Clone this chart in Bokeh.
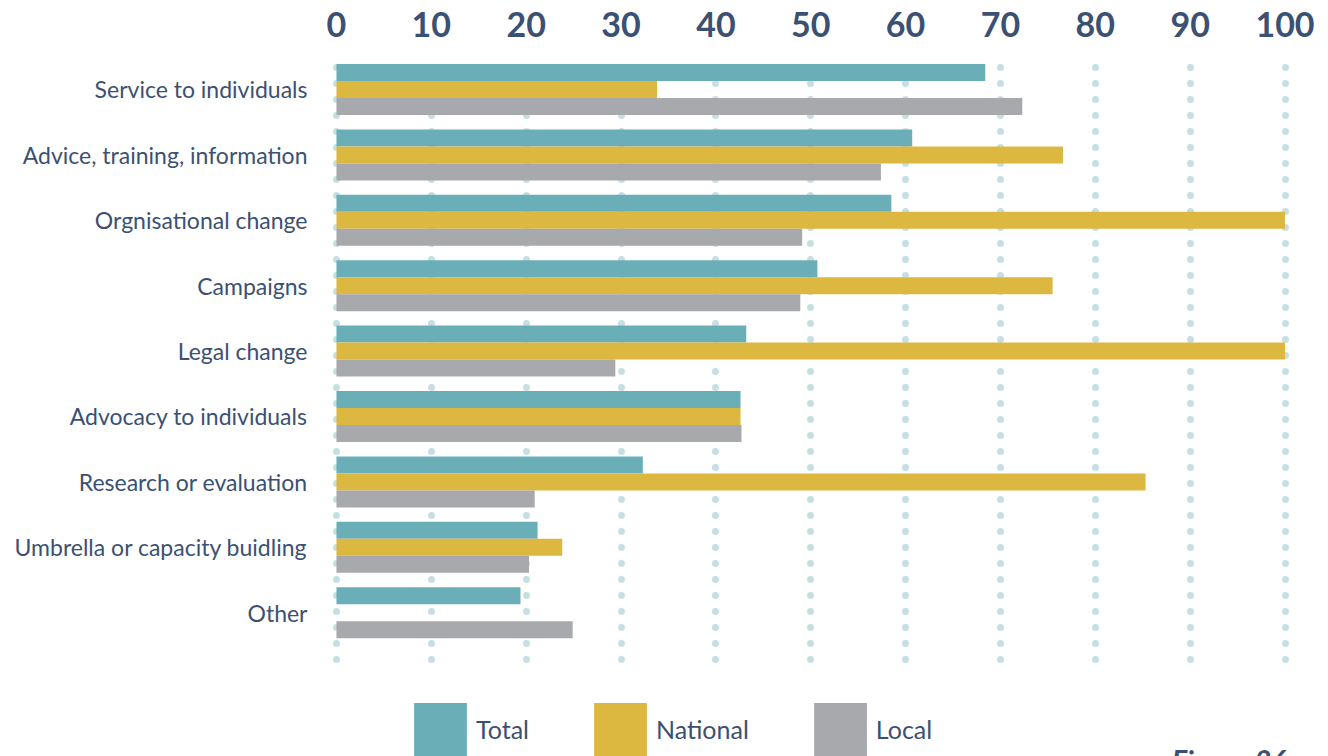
import math
from bokeh.plotting import figure
from bokeh.models import (ColumnDataSource, Range1d, FixedTicker, CustomJSTickFormatter,
                          Legend, LegendItem, Label)
from bokeh.transform import dodge
from bokeh.embed import file_html
from bokeh.resources import INLINE

categories = ["Service to individuals", "Advice, training, information", "Orgnisational change",
              "Campaigns", "Legal change", "Advocacy to individuals", "Research or evaluation",
              "Umbrella or capacity buidling", "Other"]
total = [68.4, 60.7, 58.5, 50.7, 43.2, 42.6, 32.3, 21.2, 19.4]
national = [33.8, 76.6, 100, 75.5, 100, 42.6, 85.3, 23.8, float("nan")]
local = [72.3, 57.4, 49.1, 48.9, 29.4, 42.7, 20.9, 20.3, 24.9]
x_ticks = [0, 10, 20, 30, 40, 50, 60, 70, 80, 90, 100]
series = ["Total", "National", "Local"]
colors = ["#6aafb8", "#ddb840", "#a8a9ad"]

NAVY = "#3b5173"
GRID = "#c6dfe3"

src = ColumnDataSource(dict(y=list(range(len(categories))), total=total,
                            national=national, local=local))

p = figure(width=1328, height=756, output_backend="svg", toolbar_location=None,
           x_range=Range1d(-1.05, 101.95), y_range=Range1d(10.199, -0.535),
           x_axis_location="above", min_border_left=326, min_border_right=25,
           min_border_top=54, min_border_bottom=0)
p.outline_line_color = None
p.background_fill_color = "white"
p.border_fill_color = "white"

# axes
xa = p.xaxis[0]
xa.ticker = FixedTicker(ticks=x_ticks)
xa.axis_line_color = None
xa.major_tick_line_color = None
xa.minor_tick_line_color = None
xa.major_label_text_font = "Lato"
xa.major_label_text_font_style = "bold"
xa.major_label_text_font_size = "34px"
xa.major_label_text_color = NAVY
xa.major_label_standoff = 12

ya = p.yaxis[0]
ya.ticker = FixedTicker(ticks=list(range(len(categories))))
ya.formatter = CustomJSTickFormatter(args=dict(labels=categories),
                                     code="return labels[Math.round(tick)] || '';")
ya.axis_line_color = None
ya.major_tick_line_color = None
ya.minor_tick_line_color = None
ya.major_label_text_font = "Lato"
ya.major_label_text_font_size = "23px"
ya.major_label_text_color = NAVY
ya.major_label_standoff = 13

# dotted grid
p.ygrid.grid_line_color = None
p.xgrid.ticker = FixedTicker(ticks=x_ticks)
p.xgrid.grid_line_color = GRID
p.xgrid.grid_line_width = 7
p.xgrid.grid_line_cap = "round"
p.xgrid.grid_line_dash = "0 16"
p.xgrid.cross_bounds = (-0.336, 8.838)

h = 0.26
r1 = p.hbar(y=dodge("y", -h, range=p.y_range), left=0, right="total", height=h,
            source=src, fill_color=colors[0], line_color=None)
r2 = p.hbar(y=dodge("y", 0, range=p.y_range), left=0, right="national", height=h,
            source=src, fill_color=colors[1], line_color=None)
r3 = p.hbar(y=dodge("y", h, range=p.y_range), left=0, right="local", height=h,
            source=src, fill_color=colors[2], line_color=None)

legend = Legend(items=[LegendItem(label=series[0], renderers=[r1]),
                       LegendItem(label=series[1], renderers=[r2]),
                       LegendItem(label=series[2], renderers=[r3])],
                orientation="horizontal", location=(81, -6),
                glyph_width=66, glyph_height=66, label_standoff=3, spacing=58,
                padding=0, margin=0, border_line_color=None, background_fill_alpha=0,
                label_text_font="Lato", label_text_font_size="25px",
                label_text_color=NAVY)
p.add_layout(legend, "center")

p.add_layout(Label(x=100.2, y=9.97, text="Figure 26", text_align="right",
                   text_baseline="top", text_font="Lato", text_font_style="bold italic",
                   text_font_size="29px", text_color=NAVY))

open("out.html", "w").write(file_html(p, INLINE))
